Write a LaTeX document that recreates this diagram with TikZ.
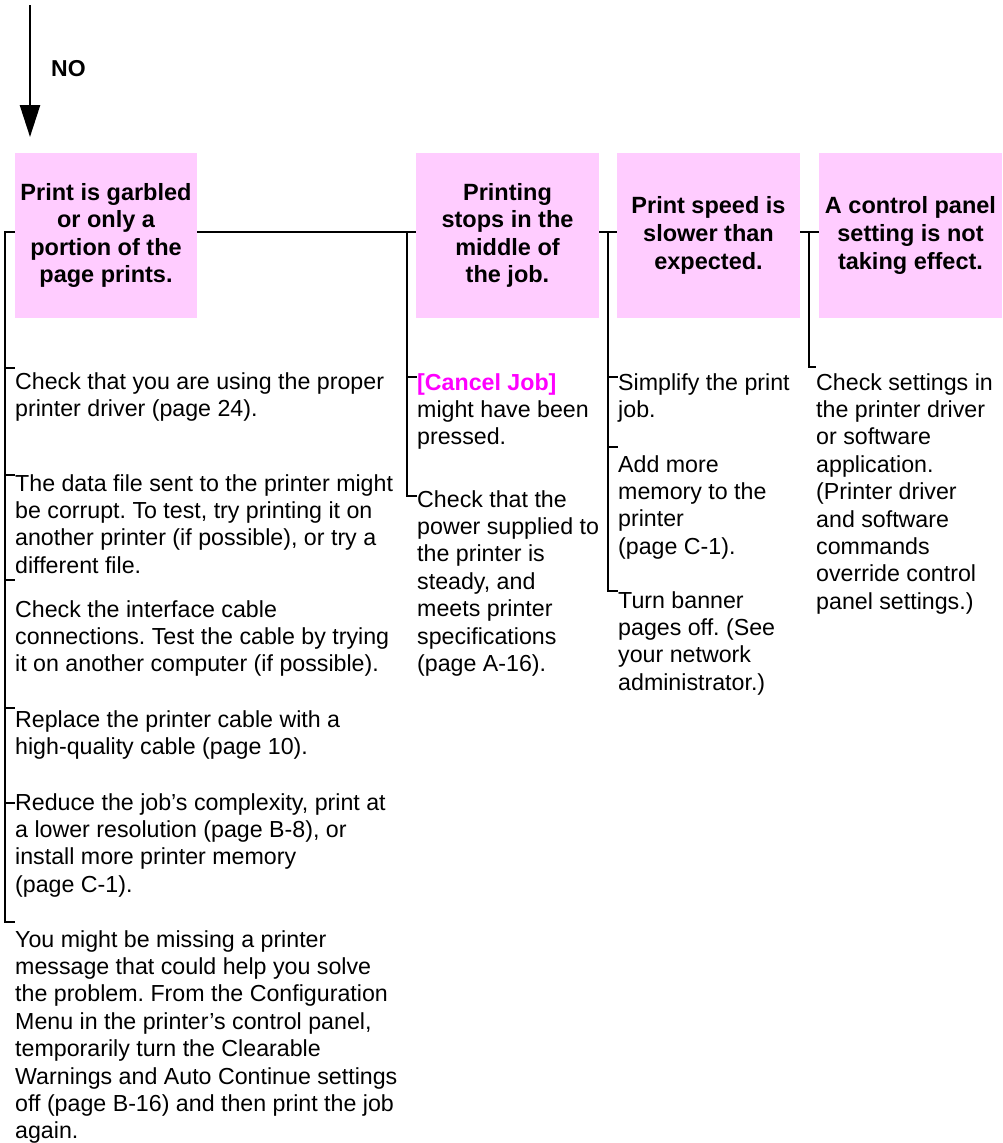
\documentclass[tikz,border=0pt]{standalone}
\usepackage{fontspec}
\setmainfont{Liberation Sans}
\usetikzlibrary{arrows.meta}
\definecolor{boxpink}{RGB}{255,204,255}
\definecolor{keymag}{RGB}{255,0,255}
\newcommand{\txtlines}[1]{\begin{tabular}[t]{@{}l@{}}#1\end{tabular}}
\frenchspacing
\begin{document}
\begin{tikzpicture}[x=1pt,y=-1pt,
  conn/.style={line width=2.5pt, line join=miter},
  probbox/.style={fill=boxpink, minimum height=165pt, inner sep=0pt, align=center,
                  font=\fontsize{23.5}{27.6}\selectfont\bfseries},
  bodytext/.style={anchor=base west, inner sep=0pt, font=\fontsize{23.2}{27.4}\selectfont}]
\useasboundingbox (0,0) rectangle (1003,1143);

% entry arrow
\coordinate (a0) at (30,5);
\coordinate (a1) at (30,137);
\draw[line width=2.6pt, -{Triangle[length=32pt,width=20pt]}] (a0) -- (a1);
\node[anchor=base west, inner sep=0pt, font=\fontsize{23}{27}\selectfont\bfseries] (no) at (51,76) {NO};

% junction coordinates
\coordinate (h1) at (5,232);
\coordinate (c1) at (5,922);
\coordinate (v2) at (407,232);
\coordinate (c2) at (407,496);
\coordinate (v3) at (608,232);
\coordinate (c3) at (608,591);
\coordinate (v4) at (809,232);
\coordinate (c4) at (809,367);

% problem boxes
\node[probbox, minimum width=182pt] (b1) at (106,235.5) {Print is garbled\\or only a\\portion of the\\page prints.};
\node[probbox, minimum width=183pt] (b2) at (507.5,235.5) {Printing\\stops in the\\middle of\\the job.};
\node[probbox, minimum width=183pt] (b3) at (708.5,235.5) {Print speed is\\slower than\\expected.};
\node[probbox, minimum width=183pt] (b4) at (910.5,235.5) {A control panel\\setting is not\\taking effect.};

% column 1 texts
\node[bodytext] (t11) at (15,389) {\txtlines{Check that you are using the proper\\printer driver (page 24).}};
\node[bodytext] (t12) at (15,491) {\txtlines{The data file sent to the printer might\\be corrupt. To test, try printing it on\\another printer (if possible), or try a\\different file.}};
\node[bodytext] (t13) at (15,617) {\txtlines{Check the interface cable\\connections. Test the cable by trying\\it on another computer (if possible).}};
\node[bodytext] (t14) at (15,727) {\txtlines{Replace the printer cable with a\\high-quality cable (page 10).}};
\node[bodytext] (t15) at (15,810) {\txtlines{Reduce the job’s complexity, print at\\a lower resolution (page B-8), or\\install more printer memory\\(page C-1).}};
\node[bodytext] (t16) at (15,947) {\txtlines{You might be missing a printer\\message that could help you solve\\the problem. From the Configuration\\Menu in the printer’s control panel,\\temporarily turn the Clearable\\Warnings and Auto Continue settings\\off (page B-16) and then print the job\\again.}};

% column 2 texts
\node[bodytext] (t21) at (417,390) {\txtlines{{\bfseries\color{keymag}[Cancel Job]}\\might have been\\pressed.}};
\node[bodytext] (t22) at (417,507) {\txtlines{Check that the\\power supplied to\\the printer is\\steady, and\\meets printer\\specifications\\(page A-16).}};

% column 3 texts
\node[bodytext] (t31) at (618,390) {\txtlines{Simplify the print\\job.}};
\node[bodytext] (t32) at (618,472) {\txtlines{Add more\\memory to the\\printer\\(page C-1).}};
\node[bodytext] (t33) at (618,608) {\txtlines{Turn banner\\pages off. (See\\your network\\administrator.)}};

% column 4 text
\node[bodytext] (t41) at (816,390) {\txtlines{Check settings in\\the printer driver\\or software\\application.\\(Printer driver\\and software\\commands\\override control\\panel settings.)}};

% tree lines
\draw[conn] (b1.east |- h1) -- (b2.west |- h1);
\draw[conn] (b1.west |- h1) -- (h1) -- (c1) -- (c1 -| t16.west);
\foreach \yy/\tn in {368/t11,475/t12,580/t13,708/t14,803/t15}
  \draw[conn] (5,\yy) -- (\tn.west |- 0,\yy);
\draw[conn] (v2) -- (c2) -- (c2 -| t22.west);
\draw[conn] (407,377) -- (t21.west |- 0,377);
\draw[conn] (b2.east |- h1) -- (b3.west |- h1);
\draw[conn] (v3) -- (c3) -- (c3 -| t33.west);
\draw[conn] (608,377) -- (t31.west |- 0,377);
\draw[conn] (608,447) -- (t32.west |- 0,447);
\draw[conn] (b3.east |- h1) -- (b4.west |- h1);
\draw[conn] (v4) -- (c4) -- (c4 -| t41.west);
\end{tikzpicture}
\end{document}
